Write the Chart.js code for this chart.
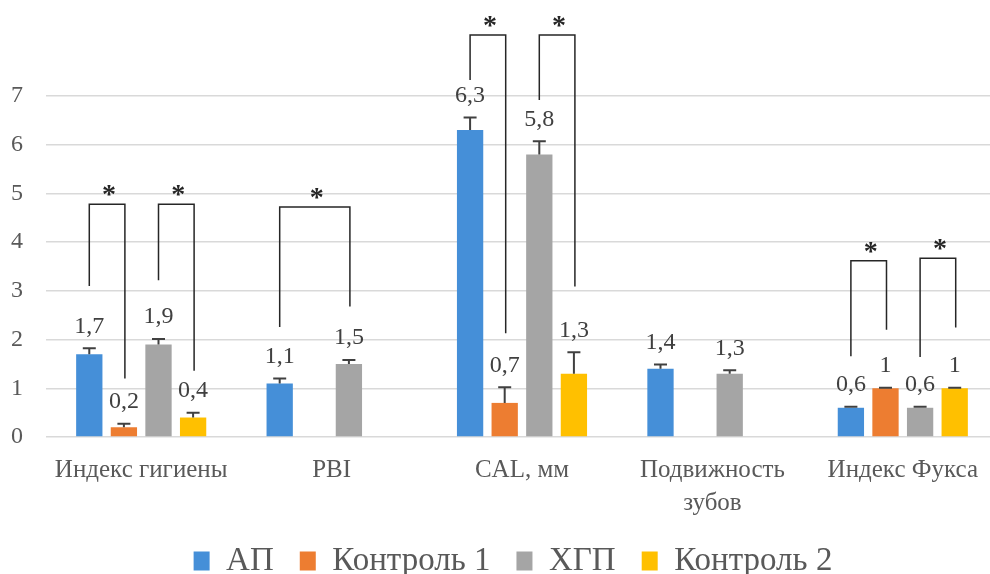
<!DOCTYPE html>
<html>
<head>
<meta charset="utf-8">
<script src="https://cdn.jsdelivr.net/npm/chart.js@4"></script>
<style>
  html, body { margin: 0; padding: 0; background: #ffffff; overflow: hidden; }
  #wrap { width: 1000px; height: 589px; position: relative; }
</style>
</head>
<body>
<div id="wrap"><canvas id="c"></canvas></div>
<script>
// ---- data ----
const categories = ['Индекс гигиены', 'PBI', 'CAL, мм', ['Подвижность', 'зубов'], 'Индекс Фукса'];
const seriesNames = ['АП', 'Контроль 1', 'ХГП', 'Контроль 2'];
const apValues    = [1.7, 1.1, 6.3, 1.4, 0.6];
const k1Values    = [0.2, null, 0.7, null, 1];
const hgpValues   = [1.9, 1.5, 5.8, 1.3, 0.6];
const k2Values    = [0.4, null, 1.3, null, 1];
// upper error bars
const apErr  = [0.12, 0.10, 0.26, 0.09, 0.02];
const k1Err  = [0.07, null, 0.32, null, 0.01];
const hgpErr = [0.11, 0.08, 0.27, 0.07, 0.02];
const k2Err  = [0.10, null, 0.44, null, 0.01];
const yTicks = [0, 1, 2, 3, 4, 5, 6, 7];
// significance brackets (category index, from series, to series, top value, left leg end, right leg end)
const sigCategory = [0, 0, 1, 2, 2, 4, 4];
const sigFrom     = [0, 2, 0, 0, 2, 0, 2];
const sigTo       = [1, 3, 2, 1, 3, 1, 3];
const sigTop      = [4.78, 4.78, 4.72, 8.25, 8.25, 3.62, 3.67];
const sigLeftEnd  = [3.10, 3.22, 2.26, 7.33, 6.92, 1.66, 1.64];
const sigRightEnd = [1.20, 1.36, 2.68, 2.13, 3.09, 2.20, 2.25];
const sigMark = '*';

const colors = ['#458FD8', '#ED7D31', '#A5A5A5', '#FFC000'];
const allValues = [apValues, k1Values, hgpValues, k2Values];
const allErr = [apErr, k1Err, hgpErr, k2Err];

const FONT = "'Liberation Serif', 'Times New Roman', serif";

const overlayPlugin = {
  id: 'overlay',
  afterLayout(chart) {
    const lg = chart.legend;
    if (lg) {
      const dx = 14, dy = -1.5;
      lg.left += dx; lg.right += dx; lg.top += dy; lg.bottom += dy;
    }
  },
  afterDatasetsDraw(chart) {
    const ctx = chart.ctx;
    const y = chart.scales.y;
    ctx.save();
    // error bars + value labels
    allValues.forEach((vals, d) => {
      const meta = chart.getDatasetMeta(d);
      vals.forEach((v, i) => {
        if (v === null) return;
        const bar = meta.data[i];
        const e = allErr[d][i] || 0;
        const yTop = y.getPixelForValue(v);
        const yErr = y.getPixelForValue(v + e);
        ctx.strokeStyle = '#404040';
        ctx.lineWidth = 2;
        ctx.beginPath();
        ctx.moveTo(bar.x, yTop);
        ctx.lineTo(bar.x, yErr);
        ctx.moveTo(bar.x - 6.5, yErr);
        ctx.lineTo(bar.x + 6.5, yErr);
        ctx.stroke();
        ctx.fillStyle = '#404040';
        ctx.font = '24px ' + FONT;
        ctx.textAlign = 'center';
        ctx.textBaseline = 'middle';
        ctx.fillText(String(v).replace('.', ','), bar.x, yErr - 22);
      });
    });
    // significance brackets
    sigCategory.forEach((c, k) => {
      const a = chart.getDatasetMeta(sigFrom[k]).data[c];
      const b = chart.getDatasetMeta(sigTo[k]).data[c];
      const xl = a.x, xr = b.x + 1;
      const yt = y.getPixelForValue(sigTop[k]);
      ctx.strokeStyle = '#262626';
      ctx.lineWidth = 1.5;
      ctx.beginPath();
      ctx.moveTo(xl, y.getPixelForValue(sigLeftEnd[k]));
      ctx.lineTo(xl, yt);
      ctx.lineTo(xr, yt);
      ctx.lineTo(xr, y.getPixelForValue(sigRightEnd[k]));
      ctx.stroke();
      ctx.fillStyle = '#262626';
      ctx.font = 'bold 28px ' + FONT;
      ctx.textAlign = 'center';
      ctx.textBaseline = 'alphabetic';
      ctx.fillText(sigMark, (xl + xr) / 2 + 2, yt - 1);
    });
    ctx.restore();
  }
};

new Chart(document.getElementById('c'), {
  type: 'bar',
  data: {
    labels: categories,
    datasets: seriesNames.map((name, d) => ({
      label: name,
      data: allValues[d],
      backgroundColor: colors[d],
      borderWidth: 0,
      categoryPercentage: 0.727,
      barPercentage: 0.76
    }))
  },
  options: {
    responsive: true,
    maintainAspectRatio: false,
    animation: false,
    layout: { padding: { top: 96, left: 0, right: 2, bottom: 0 } },
    plugins: {
      tooltip: { enabled: false },
      legend: {
        position: 'bottom',
        labels: {
          boxWidth: 16,
          boxHeight: 19,
          padding: 26,
          color: '#595959',
          font: { family: FONT, size: 33 }
        }
      }
    },
    scales: {
      x: {
        grid: { display: false, drawTicks: false },
        border: { display: false },
        ticks: {
          color: '#595959',
          padding: 16.5,
          maxRotation: 0,
          autoSkip: false,
          font: { family: FONT, size: 25, lineHeight: 1.32 }
        },
        afterFit(scale) { scale.height = 83; }
      },
      y: {
        min: 0,
        max: 7,
        afterBuildTicks(scale) { scale.ticks = yTicks.map(v => ({ value: v })); },
        grid: { color: '#d9d9d9', lineWidth: 1.5, drawTicks: false },
        border: { display: false },
        ticks: {
          color: '#595959',
          padding: 23,
          font: { family: FONT, size: 24 }
        },
        afterFit(scale) { scale.width = 46; }
      }
    }
  },
  plugins: [overlayPlugin]
});
</script>
</body>
</html>
